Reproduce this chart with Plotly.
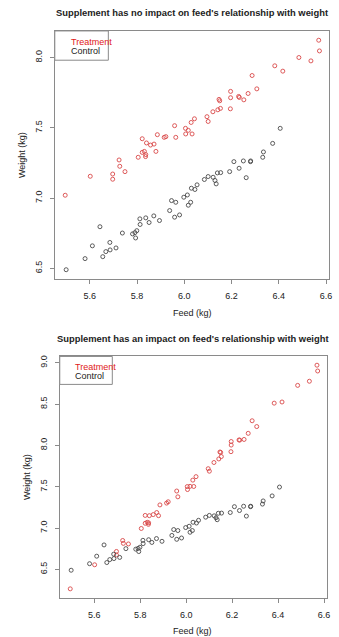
import plotly.graph_objects as go

# ---- data ----
feed_treat = [5.496, 5.602, 5.697, 5.697, 5.724, 5.727, 5.749, 5.805, 5.822, 5.822,
              5.831, 5.836, 5.837, 5.840, 5.857, 5.872, 5.880, 5.886, 5.915, 5.922,
              5.959, 5.964, 6.005, 6.006, 6.017, 6.029, 6.033, 6.043, 6.096, 6.101,
              6.121, 6.142, 6.147, 6.150, 6.153, 6.195, 6.196, 6.196, 6.230, 6.233,
              6.252, 6.270, 6.287, 6.307, 6.383, 6.417, 6.485, 6.536, 6.569, 6.572]
weight_treat_noimpact = [7.020, 7.155, 7.171, 7.134, 7.271, 7.226, 7.188, 7.290, 7.422, 7.325,
                         7.332, 7.295, 7.309, 7.392, 7.377, 7.384, 7.332, 7.451, 7.432, 7.437,
                         7.515, 7.432, 7.496, 7.456, 7.482, 7.538, 7.456, 7.564, 7.579, 7.545,
                         7.614, 7.628, 7.702, 7.692, 7.638, 7.635, 7.714, 7.759, 7.723, 7.716,
                         7.699, 7.744, 7.872, 7.777, 7.941, 7.903, 8.000, 7.976, 8.123, 8.047]
weight_treat_impact = [6.265, 6.556, 6.717, 6.675, 6.850, 6.815, 6.808, 6.995, 7.153, 7.058,
                       7.070, 7.045, 7.063, 7.150, 7.163, 7.188, 7.150, 7.280, 7.302, 7.318,
                       7.448, 7.378, 7.502, 7.466, 7.505, 7.580, 7.503, 7.622, 7.718, 7.688,
                       7.793, 7.836, 7.920, 7.915, 7.865, 7.924, 8.004, 8.047, 8.066, 8.064,
                       8.072, 8.146, 8.298, 8.228, 8.511, 8.525, 8.726, 8.776, 8.970, 8.900]
feed_ctrl = [5.500, 5.580, 5.611, 5.643, 5.655, 5.668, 5.685, 5.686, 5.711, 5.738,
             5.781, 5.791, 5.799, 5.794, 5.812, 5.813, 5.837, 5.851, 5.871, 5.895,
             5.938, 5.946, 5.959, 5.964, 5.980, 5.998, 6.013, 6.017, 6.027, 6.030,
             6.045, 6.054, 6.085, 6.101, 6.122, 6.130, 6.135, 6.140, 6.154, 6.192,
             6.210, 6.232, 6.250, 6.262, 6.280, 6.281, 6.332, 6.335, 6.374, 6.406]
weight_ctrl = [6.490, 6.569, 6.660, 6.796, 6.583, 6.619, 6.684, 6.631, 6.645, 6.751,
               6.745, 6.754, 6.768, 6.716, 6.852, 6.812, 6.859, 6.826, 6.873, 6.840,
               6.911, 6.982, 6.864, 6.970, 6.880, 7.006, 7.022, 6.949, 6.970, 7.070,
               7.061, 7.094, 7.132, 7.153, 7.148, 7.125, 7.101, 7.179, 7.181, 7.188,
               7.259, 7.212, 7.264, 7.145, 7.259, 7.264, 7.290, 7.328, 7.389, 7.496]

x_ticks = [5.6, 5.8, 6.0, 6.2, 6.4, 6.6]
y_ticks_top = [6.5, 7.0, 7.5, 8.0]
y_ticks_bottom = [6.5, 7.0, 7.5, 8.0, 8.5, 9.0]

titles = ["Supplement has no impact on feed's relationship with weight",
          "Supplement has an impact on feed's relationship with weight"]
x_label = "Feed (kg)"
y_label = "Weight (kg)"
legend_labels = ["Treatment", "Control"]

# ---- styling ----
W, H = 339, 637
RED = "#d94848"
BLK = "#4a4a4a"
AXC = "#8a8a8a"
TXT = "#222222"
FONT = "Liberation Sans"

def px_x(p):
    return p / W

def px_y(p):
    return 1 - p / H

fig = go.Figure()

mk = dict(symbol="circle-open", size=4, line=dict(width=0.9))
fig.add_trace(go.Scatter(x=feed_treat, y=weight_treat_noimpact, mode="markers",
                         marker=dict(color=RED, **mk), xaxis="x", yaxis="y", showlegend=False))
fig.add_trace(go.Scatter(x=feed_ctrl, y=weight_ctrl, mode="markers",
                         marker=dict(color=BLK, **mk), xaxis="x", yaxis="y", showlegend=False))
fig.add_trace(go.Scatter(x=feed_treat, y=weight_treat_impact, mode="markers",
                         marker=dict(color=RED, **mk), xaxis="x2", yaxis="y2", showlegend=False))
fig.add_trace(go.Scatter(x=feed_ctrl, y=weight_ctrl, mode="markers",
                         marker=dict(color=BLK, **mk), xaxis="x2", yaxis="y2", showlegend=False))

axis_common = dict(showline=True, mirror=True, linecolor=AXC, linewidth=1,
                   ticks="outside", ticklen=4, tickcolor=AXC, tickwidth=1,
                   showgrid=False, zeroline=False, tickformat=".1f",
                   tickfont=dict(family=FONT, size=9, color=TXT))

# panel boxes in pixels
p1 = dict(l=55.3, r=332.3, t=30, b=278.3)
p2 = dict(l=60.3, r=330.0, t=356, b=597.7)

fig.update_layout(
    width=W, height=H, margin=dict(l=0, r=0, t=0, b=0),
    paper_bgcolor="white", plot_bgcolor="white",
    xaxis=dict(domain=[px_x(p1["l"]), px_x(p1["r"])], range=[5.452, 6.614],
               tickvals=x_ticks, anchor="y", ticklabelstandoff=4, **axis_common),
    yaxis=dict(domain=[px_y(p1["b"]), px_y(p1["t"])], range=[6.425, 8.189],
               tickvals=y_ticks_top, anchor="x", tickangle=-90, ticklabelstandoff=4, **axis_common),
    xaxis2=dict(domain=[px_x(p2["l"]), px_x(p2["r"])], range=[5.4504, 6.613],
                tickvals=x_ticks, anchor="y2", ticklabelstandoff=4, **axis_common),
    yaxis2=dict(domain=[px_y(p2["b"]), px_y(p2["t"])], range=[6.157, 9.076],
                tickvals=y_ticks_bottom, anchor="x2", tickangle=-90, ticklabelstandoff=4, **axis_common),
)

ann = []
def text(x, y, s, size=9, bold=False, color=TXT, angle=0, xanchor="center"):
    ann.append(dict(x=px_x(x), y=px_y(y), xref="paper", yref="paper",
                    text=f"<b>{s}</b>" if bold else s, showarrow=False,
                    xanchor=xanchor, yanchor="middle", textangle=angle,
                    font=dict(family=FONT, size=size, color=color)))

# titles
text(194, 12, titles[0], size=9.4, bold=True)
text(195, 337.7, titles[1], size=9.4, bold=True)
# axis labels
text(194, 312.7, x_label, size=9)
text(194.3, 631.3, x_label, size=9)
text(21.5, 154, y_label, size=9, angle=-90)
text(27, 477, y_label, size=9, angle=-90)
# legends
text(70, 40.7, legend_labels[0], size=9, color="#e02020", xanchor="left")
text(70, 50.3, legend_labels[1], size=9, color=TXT, xanchor="left")
text(74, 366.3, legend_labels[0], size=9, color="#e02020", xanchor="left")
text(74, 375.7, legend_labels[1], size=9, color=TXT, xanchor="left")
fig.update_layout(annotations=ann)

shapes = []
for (l, r, t, b) in [(55.3, 109.3, 30, 59.3), (60.3, 113.3, 356, 384)]:
    shapes.append(dict(type="rect", xref="paper", yref="paper",
                       x0=px_x(l), x1=px_x(r), y0=px_y(b), y1=px_y(t),
                       line=dict(color=AXC, width=1), fillcolor="white"))
fig.update_layout(shapes=shapes)

fig.write_html("out.html")
